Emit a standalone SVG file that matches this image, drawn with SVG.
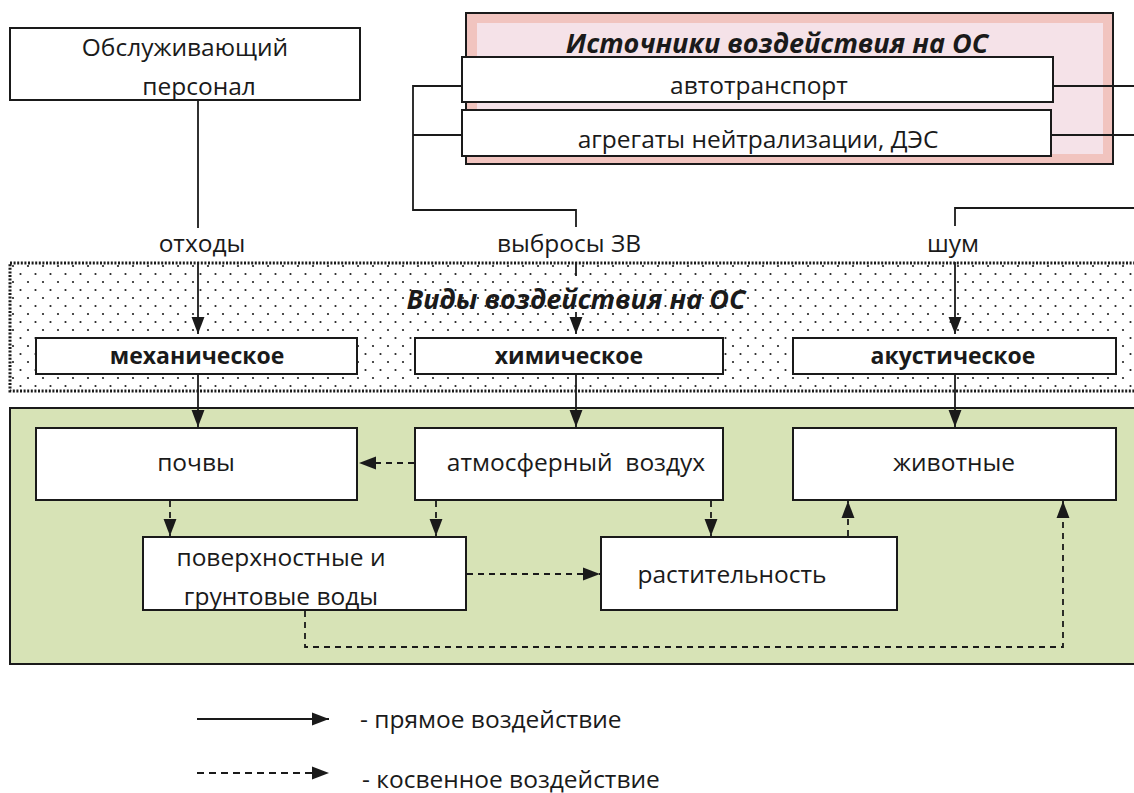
<svg xmlns="http://www.w3.org/2000/svg" width="1134" height="793" viewBox="0 0 1134 793">
<defs>
<style>
.box{fill:#fff;stroke:#1a1a1a;stroke-width:2}
.t{font-family:"Open Sans","Liberation Sans",sans-serif;font-size:24.5px;fill:#1a1a1a;text-anchor:middle}
.b{font-weight:bold;font-size:23px}
.ti{font-family:"Open Sans","Liberation Sans",sans-serif;font-size:27px;font-style:italic;font-weight:bold;fill:#1a1a1a;text-anchor:middle}
.ln{fill:none;stroke:#1a1a1a;stroke-width:1.8}
.dl{fill:none;stroke:#1a1a1a;stroke-width:1.8;stroke-dasharray:6 5}
</style>
<marker id="ahb" viewBox="0 0 10 10" refX="10" refY="5" markerWidth="17" markerHeight="17" markerUnits="userSpaceOnUse" orient="auto">
<path d="M0,1.2 L10,5 L0,8.8 z" fill="#1a1a1a"/>
</marker>
<pattern id="dots" x="10" y="262" width="15" height="16" patternUnits="userSpaceOnUse">
<circle cx="3" cy="4" r="1.1" fill="#222"/>
<circle cx="10.5" cy="12" r="1.1" fill="#222"/>
</pattern>
</defs>

<g id="green-area">
<rect x="10" y="408" width="1130" height="256" fill="#d7e3b6" stroke="#1a1a1a" stroke-width="2"/>
</g>
<g id="types-area">
<rect x="10" y="263" width="1130" height="128" fill="url(#dots)" stroke="#1a1a1a" stroke-width="3" stroke-dasharray="2 1.6"/>
<text class="ti" x="576" y="309">Виды  воздействия на ОС</text>
</g>
<g id="sources">
<rect x="466" y="13" width="647" height="151" fill="#f1c4bf" stroke="#1a1a1a" stroke-width="2"/>
<rect x="477" y="23" width="626" height="131" fill="#f5e2e8"/>
<text class="ti" x="777" y="53">Источники воздействия на ОС</text>
</g>

<g id="connectors">
<path class="ln" d="M198,100 V228"/>
<path class="ln" d="M198,262 V334" marker-end="url(#ahb)"/>
<path class="ln" d="M462,86 H413 V210 H576 V227 M413,135 H462"/>
<path class="ln" d="M576,262 V276"/>
<path class="ln" d="M576,312 V334" marker-end="url(#ahb)"/>
<path class="ln" d="M1053,86 H1134 M1051,135 H1134 M1134,208 H955 V226"/>
<path class="ln" d="M955,262 V334" marker-end="url(#ahb)"/>
<path class="ln" d="M198,374 V427" marker-end="url(#ahb)"/>
<path class="ln" d="M576,374 V427" marker-end="url(#ahb)"/>
<path class="ln" d="M955,374 V427" marker-end="url(#ahb)"/>
<path class="dl" d="M414,463 H359" marker-end="url(#ahb)"/>
<path class="dl" d="M170,501 V536" marker-end="url(#ahb)"/>
<path class="dl" d="M436,501 V536" marker-end="url(#ahb)"/>
<path class="dl" d="M711,501 V536" marker-end="url(#ahb)"/>
<path class="dl" d="M467,574 H600" marker-end="url(#ahb)"/>
<path class="dl" d="M848,536 V501" marker-end="url(#ahb)"/>
<path class="dl" d="M305,611 V647 H1063 V501" marker-end="url(#ahb)"/>
</g>

<g id="personnel">
<rect class="box" x="10" y="28" width="350" height="72"/>
<text class="t" x="185" y="56">Обслуживающий</text>
<text class="t" x="199" y="95">персонал</text>
</g>
<g id="autotransport">
<rect class="box" x="462" y="57" width="591" height="45"/>
<text class="t" x="759" y="94">автотранспорт</text>
</g>
<g id="aggregates">
<rect class="box" x="462" y="110" width="589" height="46"/>
<text class="t" x="758" y="148">агрегаты нейтрализации, ДЭС</text>
</g>

<g id="labels">
<text class="t" x="202" y="252">отходы</text>
<text class="t" x="569" y="252">выбросы ЗВ</text>
<text class="t" x="953" y="252">шум</text>
</g>

<g id="mech">
<rect class="box" x="36" y="338" width="321" height="36"/>
<text class="t b" x="197" y="364">механическое</text>
</g>
<g id="chem">
<rect class="box" x="415" y="338" width="308" height="36"/>
<text class="t b" x="569" y="364">химическое</text>
</g>
<g id="acoustic">
<rect class="box" x="793" y="338" width="323" height="36"/>
<text class="t b" x="953" y="364">акустическое</text>
</g>

<g id="soil">
<rect class="box" x="36" y="428" width="321" height="72"/>
<text class="t" x="196" y="471">почвы</text>
</g>
<g id="air">
<rect class="box" x="415" y="428" width="308" height="72"/>
<text class="t" x="576" y="471" xml:space="preserve">атмосферный  воздух</text>
</g>
<g id="animals">
<rect class="box" x="793" y="428" width="323" height="72"/>
<text class="t" x="954" y="471">животные</text>
</g>
<g id="water">
<rect class="box" x="143" y="537" width="323" height="73"/>
<text class="t" x="281" y="566">поверхностные и</text>
<text class="t" x="281" y="605">грунтовые воды</text>
</g>
<g id="plants">
<rect class="box" x="601" y="537" width="296" height="73"/>
<text class="t" x="732" y="583">растительность</text>
</g>

<g id="legend">
<path class="ln" d="M197,719 H329" marker-end="url(#ahb)"/>
<text class="t" x="360" y="728" style="text-anchor:start">- прямое воздействие</text>
<path class="dl" d="M197,773 H329" marker-end="url(#ahb)" style="stroke-dasharray:7 5"/>
<text class="t" x="362" y="788" style="text-anchor:start">- косвенное воздействие</text>
</g>
</svg>
